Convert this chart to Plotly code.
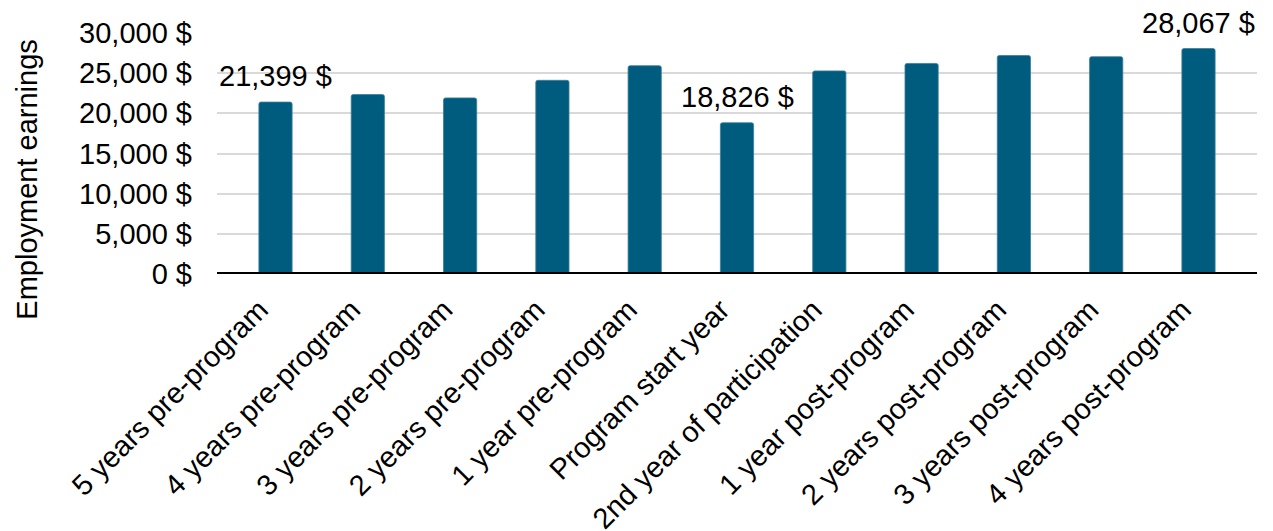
import plotly.graph_objects as go

categories = [
    "5 years pre-program", "4 years pre-program", "3 years pre-program",
    "2 years pre-program", "1 year pre-program", "Program start year",
    "2nd year of participation", "1 year post-program", "2 years post-program",
    "3 years post-program", "4 years post-program",
]
earnings = [21399, 22340, 21920, 24110, 25930, 18826, 25280, 26210, 27200, 27050, 28067]
labelled = [0, 5, 10]
y_ticks = [0, 5000, 10000, 15000, 20000, 25000, 30000]
y_tick_text = ["0 $", "5,000 $", "10,000 $", "15,000 $", "20,000 $", "25,000 $", "30,000 $"]
y_title = "Employment earnings"

FONT = "Liberation Sans, Arial, sans-serif"
FS = 29
BAR = "#005c7e"

fig = go.Figure(go.Bar(
    x=categories, y=earnings,
    marker=dict(color=BAR, line=dict(color="#3a7f9c", width=0.8), cornerradius=2),
    width=0.36, hoverinfo="skip",
))

for i in labelled:
    fig.add_annotation(
        x=categories[i], y=earnings[i], text=f"{earnings[i]:,} $",
        showarrow=False, yanchor="bottom", yshift=8,
        font=dict(family=FONT, size=FS, color="#000000"),
    )

# y-axis title, placed like the reference (slightly below the plot's middle)
fig.add_annotation(
    xref="paper", yref="paper", x=-0.183, y=0.39, text=y_title,
    textangle=-90, showarrow=False, xanchor="center", yanchor="middle",
    font=dict(family=FONT, size=FS, color="#000000"),
)

fig.add_hline(y=0, line=dict(color="#000000", width=4))

fig.update_layout(
    width=1273, height=531,
    margin=dict(l=217, r=16, t=33, b=257),
    plot_bgcolor="white", paper_bgcolor="white",
    font=dict(family=FONT, size=FS, color="#000000"),
    showlegend=False,
    xaxis=dict(
        tickangle=-45, showgrid=False, showline=False, ticks="",
        tickfont=dict(family=FONT, size=FS, color="#000000"),
        ticklabelshift=-16, ticklabelstandoff=12,
        automargin=False,
    ),
    yaxis=dict(
        range=[0, 30000], tickvals=y_ticks, ticktext=y_tick_text,
        showgrid=True, gridcolor="#d9d9d9", gridwidth=1.5,
        zeroline=False, showline=False, ticks="",
        tickfont=dict(family=FONT, size=FS, color="#000000"),
        ticklabelstandoff=24,
        automargin=False,
    ),
)

fig.write_html("out.html")
